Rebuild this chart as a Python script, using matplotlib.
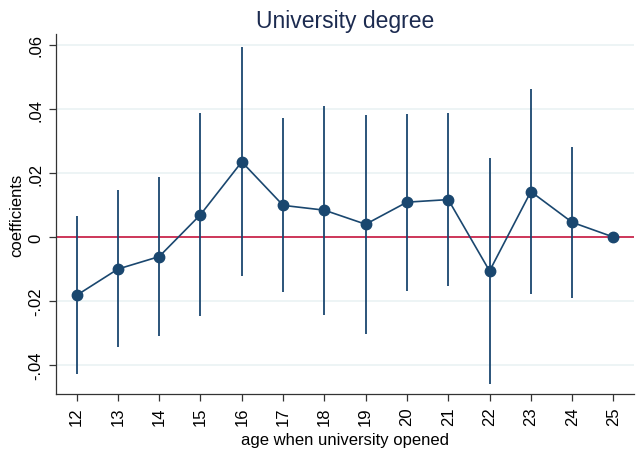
import numpy as np
import matplotlib.pyplot as plt

# coefficients by age when the local university opened (25 = reference)
ages = [12, 13, 14, 15, 16, 17, 18, 19, 20, 21, 22, 23, 24, 25]
coef = [-0.0182, -0.0100, -0.0061, 0.0070, 0.0235, 0.0099, 0.0084,
        0.0040, 0.0109, 0.0117, -0.0106, 0.0142, 0.0046, 0.0]
ci_lo = [-0.0428, -0.0345, -0.0308, -0.0246, -0.0123, -0.0171, -0.0244,
         -0.0302, -0.0167, -0.0154, -0.0458, -0.0178, -0.0191, 0.0]
ci_hi = [0.0066, 0.0147, 0.0187, 0.0386, 0.0593, 0.0371, 0.0409,
         0.0381, 0.0383, 0.0386, 0.0248, 0.0461, 0.0282, 0.0]
yticks = [-0.04, -0.02, 0, 0.02, 0.04, 0.06]
ytick_labels = ['-.04', '-.02', '0', '.02', '.04', '.06']

navy = '#1a476f'
plt.rcParams['font.family'] = ['Liberation Sans', 'DejaVu Sans']

fig = plt.figure(figsize=(6.36, 4.56), dpi=100)
ax = fig.add_axes([0.088, 0.134, 0.909, 0.789])

# grid and zero line
for t in yticks:
    ax.axhline(t, color='#eaf2f3', linewidth=1.2, zorder=0)
ax.axhline(0, color='#c8163f', linewidth=1.2, zorder=1)

# confidence intervals
ax.vlines(ages, ci_lo, ci_hi, color=navy, linewidth=1.3, zorder=2)

# point estimates
ax.plot(ages, coef, color=navy, linewidth=1.2, marker='o', markersize=7.5,
        markerfacecolor=navy, markeredgecolor=navy, zorder=3)

ax.set_xlim(11.5, 25.5)
ax.set_ylim(-0.049, 0.0634)
ax.set_xticks(ages)
ax.set_xticklabels([str(a) for a in ages], rotation=90, fontsize=12)
ax.set_yticks(yticks)
ax.set_yticklabels(ytick_labels, rotation=90, va='center', fontsize=12)
ax.tick_params(direction='out', length=5, width=0.9, color='#333333', pad=4)

for s in ['top', 'right']:
    ax.spines[s].set_visible(False)
for s in ['left', 'bottom']:
    ax.spines[s].set_color('#333333')
    ax.spines[s].set_linewidth(0.9)

ax.set_xlabel('age when university opened', fontsize=12, labelpad=5)
ax.set_ylabel('coefficients', fontsize=12, labelpad=3)
ax.set_title('University degree', fontsize=16.5, color='#1c2b50', pad=5)

fig.savefig('out.png', dpi=100)
